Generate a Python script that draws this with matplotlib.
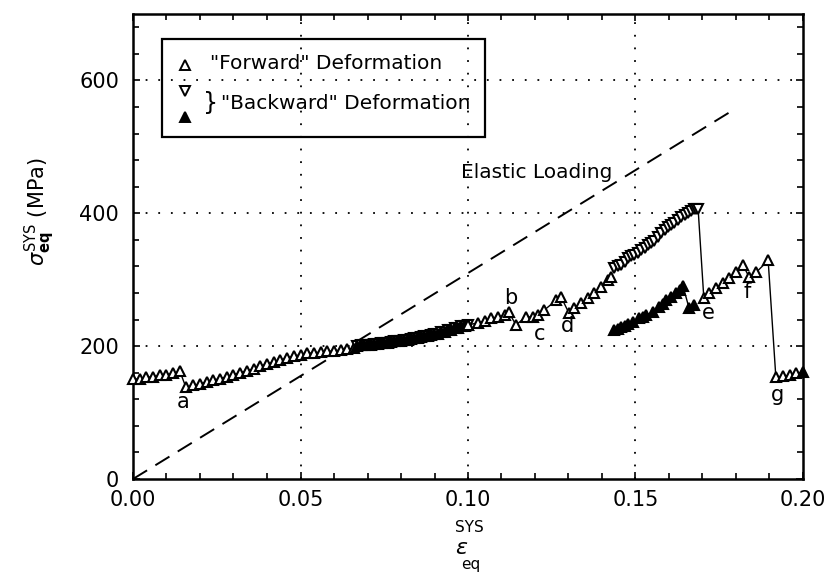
import matplotlib
matplotlib.use("Agg")
import matplotlib.pyplot as plt
from matplotlib.patches import Rectangle
from matplotlib.ticker import MultipleLocator

# ---------------- data ----------------
# "Forward" deformation, first loading branch (open up-triangles)
fw1_x = [0.000, 0.002, 0.004, 0.006, 0.008, 0.010, 0.012, 0.014,
         0.0158, 0.018, 0.020, 0.022, 0.024, 0.026, 0.028, 0.030, 0.032,
         0.034, 0.036, 0.038, 0.040, 0.042, 0.044, 0.046, 0.048, 0.050,
         0.052, 0.054, 0.056, 0.058, 0.060, 0.062, 0.064, 0.066]
fw1_y = [150, 151, 153, 154, 156, 157, 159, 162,
         138, 141, 143, 146, 149, 151, 154, 157, 160,
         163, 166, 170, 173, 176, 179, 182, 185, 187,
         189, 190, 191, 192, 193, 194, 195, 197]

# "Backward" deformation, dense branch
bw1_x = [0.067, 0.068, 0.069, 0.070, 0.071, 0.072, 0.073, 0.074, 0.075,
         0.076, 0.077, 0.078, 0.079, 0.080, 0.081, 0.082, 0.083, 0.084,
         0.085, 0.086, 0.087, 0.088, 0.089, 0.090, 0.091, 0.092, 0.093,
         0.094, 0.095, 0.096, 0.097, 0.098, 0.099, 0.100]
bw1_y = [200, 201, 201, 202, 202, 203, 203, 204, 204,
         205, 206, 207, 207, 208, 209, 210, 211, 212,
         213, 214, 215, 216, 217, 218, 219, 221, 222,
         224, 225, 227, 228, 230, 231, 232]

# "Forward" deformation, second branch (b, c, d)
fw2_x = [0.100, 0.103, 0.105, 0.107, 0.109, 0.111, 0.1122,
         0.1143, 0.1173, 0.1194, 0.1209, 0.1227, 0.1263, 0.1278,
         0.1301, 0.1316, 0.1337, 0.1358, 0.1376, 0.1397, 0.1418, 0.1427]
fw2_y = [232, 235, 238, 242, 244, 247, 251,
         232, 244, 244, 247, 254, 269, 274,
         250, 257, 265, 272, 280, 289, 299, 304]

# "Backward" deformation, upper branch
bw2_x = [0.1436, 0.1447, 0.1457, 0.1468, 0.1478, 0.1487, 0.1496, 0.1506,
         0.1516, 0.1527, 0.1537, 0.1546, 0.1555, 0.1566, 0.1576, 0.1587,
         0.1597, 0.1606, 0.1615, 0.1626, 0.1636, 0.1647, 0.1657, 0.1666,
         0.1675, 0.1681, 0.1687]
bw2_y = [317, 320, 322, 327, 332, 335, 337, 340,
         344, 348, 352, 355, 359, 364, 370, 375,
         379, 383, 386, 390, 394, 398, 401, 404,
         406, 406, 406]

# "Backward" deformation, lower branch (filled up-triangles)
bw3_x = [0.1436, 0.1447, 0.1457, 0.1468, 0.1478, 0.1493, 0.1510, 0.1521,
         0.1531, 0.1552, 0.1570, 0.1581, 0.1591, 0.1606, 0.1621, 0.1632,
         0.1642, 0.1660, 0.1675]
bw3_y = [224, 226, 229, 231, 233, 236, 242, 244,
         247, 251, 259, 264, 269, 274, 280, 285,
         290, 257, 262]

# "Forward" deformation, third branch (e, f, g)
fw3_x = [0.1704, 0.1719, 0.1740, 0.1761, 0.1779, 0.1800, 0.1821,
         0.1839, 0.1860, 0.1896, 0.1919, 0.1940, 0.1960, 0.1980]
fw3_y = [272, 280, 287, 295, 302, 311, 322,
         304, 311, 329, 153, 155, 156, 159]

# last "Backward" point (filled up-triangle)
bw4_x = [0.2000]
bw4_y = [161]

# Elastic loading line
el_x = [0.0, 0.18]
el_y = [0.0, 558.0]

# point labels
lbl_text = ["a", "b", "c", "d", "e", "f", "g"]
lbl_x = [0.0149, 0.1128, 0.1215, 0.1296, 0.1716, 0.1833, 0.1925]
lbl_y = [116, 273, 219, 231, 250, 281, 126]

x_ticks = [0.00, 0.05, 0.10, 0.15, 0.20]
x_ticklabels = ["0.00", "0.05", "0.10", "0.15", "0.20"]
y_ticks = [0, 200, 400, 600]
y_ticklabels = ["0", "200", "400", "600"]

# ---------------- figure ----------------
plt.rcParams['font.family'] = ['DejaVu Sans']
fig = plt.figure(figsize=(8.29, 5.72), dpi=100)
W, H = 829, 572
L, R, T, B = 133, 803, 14, 479
ax = fig.add_axes([L / W, 1 - B / H, (R - L) / W, (B - T) / H])
ax.set_xlim(0, 0.2)
ax.set_ylim(0, 700)

# grid
for gx in [0.05, 0.10, 0.15]:
    ax.axvline(gx, color='k', lw=1.3, linestyle=(0, (1, 6)), zorder=1)
for gy in [200, 400, 600]:
    ax.axhline(gy, color='k', lw=1.3, linestyle=(0, (1, 6)), zorder=1)

# elastic loading
ax.plot(el_x, el_y, color='k', lw=1.4, linestyle=(0, (8.5, 5)), zorder=2)

ms = 7.2
mkw = dict(color='k', lw=1.0, ms=ms, mew=1.5, clip_on=False, zorder=3)
ax.plot(fw1_x, fw1_y, marker='^', mfc='white', mec='k', **mkw)
ax.plot(bw1_x, bw1_y, marker='v', mfc='white', mec='k', **mkw)
ax.plot(bw1_x, bw1_y, marker='^', mfc='k', mec='k', ls='none',
        ms=ms, mew=1.5, clip_on=False, zorder=3)
ax.plot(fw2_x, fw2_y, marker='^', mfc='white', mec='k', **mkw)
ax.plot(bw2_x, bw2_y, marker='v', mfc='white', mec='k', **mkw)
ax.plot(bw3_x, bw3_y, marker='^', mfc='k', mec='k', **mkw)
ax.plot(fw3_x, fw3_y, marker='^', mfc='white', mec='k', **mkw)
ax.plot(bw4_x, bw4_y, marker='^', mfc='k', mec='k', **mkw)
# connectors between branches
ax.plot([bw2_x[-1], fw3_x[0]], [bw2_y[-1], fw3_y[0]], color='k', lw=1.0, zorder=2)
ax.plot([fw3_x[-1], bw4_x[0]], [fw3_y[-1], bw4_y[0]], color='k', lw=1.0, zorder=2)

for t, lx, ly in zip(lbl_text, lbl_x, lbl_y):
    ax.text(lx, ly, t, fontsize=15, ha='center', va='center')

ax.text(0.1205, 462, "Elastic Loading", fontsize=14.5, ha='center', va='center')

# legend (drawn manually)
ax.add_patch(Rectangle((0.0433, 0.735), 0.482, 0.212, transform=ax.transAxes,
                       fill=False, ec='k', lw=1.6, zorder=4))
ax.plot([0.0776], [0.891], marker='^', mfc='white', mec='k', ms=6.5, mew=1.4,
        transform=ax.transAxes, ls='none')
ax.plot([0.0776], [0.834], marker='v', mfc='white', mec='k', ms=6.5, mew=1.4,
        transform=ax.transAxes, ls='none')
ax.plot([0.0776], [0.779], marker='^', mfc='k', mec='k', ms=6.5, mew=1.4,
        transform=ax.transAxes, ls='none')
ax.text(0.105, 0.808, "}", fontsize=17, transform=ax.transAxes, ha='left', va='center')
ax.text(0.115, 0.893, '"Forward" Deformation', fontsize=14.5,
        transform=ax.transAxes, ha='left', va='center')
ax.text(0.132, 0.808, '"Backward" Deformation', fontsize=14.5,
        transform=ax.transAxes, ha='left', va='center')

# ticks
ax.set_xticks(x_ticks)
ax.set_xticklabels(x_ticklabels)
ax.set_yticks(y_ticks)
ax.set_yticklabels(y_ticklabels)
ax.xaxis.set_minor_locator(MultipleLocator(0.01))
ax.yaxis.set_minor_locator(MultipleLocator(40))
ax.tick_params(which='both', direction='in', top=True, right=True, width=1.2,
               labelsize=15)
ax.tick_params(which='major', length=5)
ax.tick_params(which='minor', length=4)
ax.tick_params(axis='y', pad=10)
ax.tick_params(axis='x', pad=8)
for s in ax.spines.values():
    s.set_linewidth(1.8)

# axis labels
fig.text(40 / W, 1 - 212 / H, r'$\sigma_{\mathbf{eq}}^{\mathrm{SYS}}$ (MPa)',
         rotation=90, fontsize=15, ha='center', va='center')
fig.text(469 / W, 1 - 527 / H, 'SYS', fontsize=11, ha='center', va='center')
fig.text(462 / W, 1 - 548 / H, r'$\varepsilon$', fontsize=16, ha='center', va='center')
fig.text(471 / W, 1 - 565 / H, 'eq', fontsize=11, ha='center', va='center')

fig.savefig("out.png", dpi=100)
